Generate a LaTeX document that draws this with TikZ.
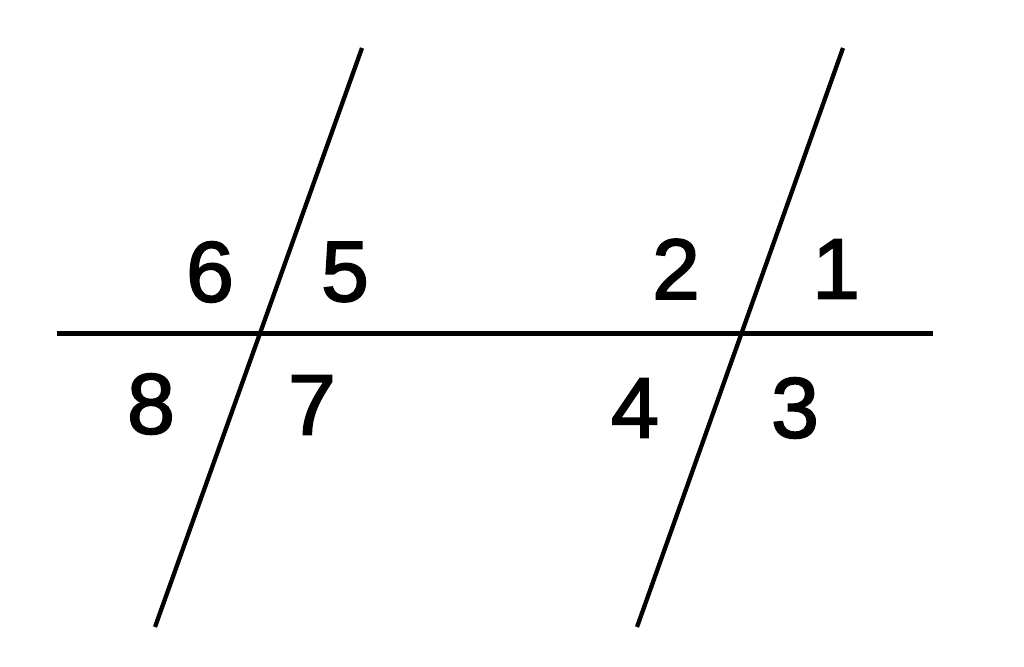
\documentclass[tikz,border=0pt]{standalone}
\usepackage{fontspec}
\setmainfont{Liberation Sans}
\newfontfamily\numfont[FakeBold=2]{Liberation Sans}
\begin{document}
\begin{tikzpicture}[x=1pt,y=-1pt,
  ln/.style={line width=5pt,black},
  num/.style={inner sep=0pt,font=\numfont\fontsize{86}{86}\selectfont}]
\useasboundingbox[fill=white] (0,0) rectangle (1024,666);
\coordinate (hL) at (57,333);
\coordinate (hR) at (933,333);
\coordinate (aT) at (362,48);
\coordinate (aB) at (155,627);
\coordinate (bT) at (843,48);
\coordinate (bB) at (637,627);
\draw[ln] (hL) -- (hR);
\draw[ln,line width=4.3pt] (aT) -- (aB);
\draw[ln,line width=4.3pt] (bT) -- (bB);
\node[num] (n6) at (210,272) {6};
\node[num] (n5) at (345,272) {5};
\node[num] (n8) at (151,404) {8};
\node[num] (n7) at (312,405) {7};
\node[num] (n2) at (676,269) {2};
\node[num] (n1) at (836,269) {1};
\node[num] (n4) at (635,408) {4};
\node[num] (n3) at (795,408) {3};
\end{tikzpicture}
\end{document}
